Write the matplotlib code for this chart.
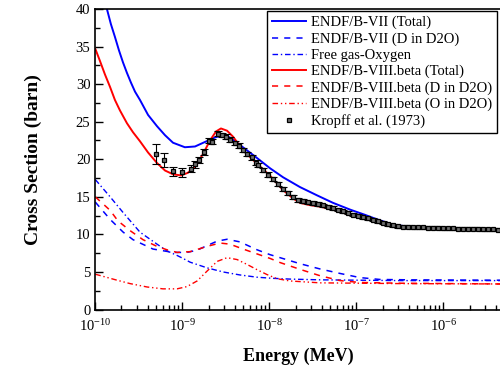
import matplotlib
matplotlib.use("Agg")
import matplotlib.pyplot as plt
from matplotlib.lines import Line2D
from matplotlib.ticker import FixedLocator, MultipleLocator, NullFormatter, LogFormatterSciNotation

plt.rcParams['font.family'] = ['Liberation Serif', 'DejaVu Serif']
plt.rcParams['mathtext.fontset'] = 'custom'
plt.rcParams['mathtext.rm'] = 'Liberation Serif'

# ---------------- data (energy in MeV, cross section in barn) ----------------
e7_total_E = [1.00e-10, 1.36e-10, 1.51e-10, 1.68e-10, 1.87e-10, 2.08e-10, 2.31e-10, 2.57e-10,
              2.86e-10, 3.26e-10, 4.04e-10, 5.12e-10, 6.33e-10, 7.82e-10, 1.07e-9, 1.40e-9,
              1.82e-9, 2.38e-9, 2.86e-9, 3.53e-9, 4.60e-9, 7.16e-9, 1.02e-8, 1.44e-8, 2.25e-8,
              3.53e-8, 5.39e-8, 8.47e-8, 1.26e-7, 1.73e-7, 2.64e-7, 4.14e-7, 9.16e-7, 2.03e-6,
              4.6e-6]
e7_total = [45.5, 40.0, 38.0, 36.3, 34.5, 32.9, 31.5, 30.2,
            29.0, 27.9, 25.9, 24.4, 23.2, 22.2, 21.6, 21.7,
            22.3, 22.9, 23.2, 22.9, 21.9, 20.2, 18.8, 17.6, 16.3,
            15.2, 14.2, 13.3, 12.6, 12.0, 11.3, 11.0, 10.85, 10.7,
            10.6]

e7_d_E = [1.00e-10, 1.48e-10, 2.09e-10, 2.71e-10, 4.60e-10, 7.82e-10, 1.13e-9, 1.48e-9, 1.92e-9,
          2.51e-9, 3.27e-9, 4.60e-9, 7.23e-9, 1.02e-8, 1.33e-8, 2.25e-8, 3.82e-8, 6.50e-8,
          1.10e-7, 1.87e-7, 4.14e-7, 4.6e-6]
e7_d = [14.3, 12.0, 10.3, 9.3, 8.05, 7.6, 7.6, 7.9, 8.5,
        9.1, 9.35, 9.0, 7.95, 7.3, 6.9, 6.1, 5.4, 4.8,
        4.25, 4.0, 3.95, 3.9]

freegas_O_E = [1.00e-10, 1.48e-10, 2.09e-10, 3.26e-10, 5.12e-10, 6.67e-10, 8.69e-10, 1.02e-9,
               1.23e-9, 1.92e-9, 2.94e-9, 4.60e-9, 7.23e-9, 1.10e-8, 1.73e-8, 3.82e-8, 3.18e-7, 4.6e-6]
freegas_O = [17.3, 15.0, 12.9, 10.3, 8.7, 7.8, 7.2, 6.8,
             6.3, 5.55, 5.0, 4.6, 4.3, 4.15, 4.05, 3.95, 3.85, 3.85]

e8_total_E = [1.00e-10, 1.13e-10, 1.29e-10, 1.48e-10, 1.68e-10, 1.92e-10, 2.31e-10, 2.71e-10,
              3.26e-10, 4.04e-10, 5.12e-10, 6.33e-10, 7.82e-10, 9.66e-10, 1.16e-9, 1.40e-9,
              1.73e-9, 2.08e-9, 2.44e-9, 2.78e-9, 3.27e-9, 3.83e-9, 4.99e-9, 7.23e-9, 1.02e-8,
              1.44e-8, 1.87e-8, 2.25e-8, 2.93e-8, 3.82e-8, 5.39e-8, 8.47e-8, 1.26e-7, 1.73e-7,
              2.64e-7, 4.14e-7, 9.16e-7, 2.03e-6, 4.6e-6]
e8_total = [34.7, 33.1, 31.3, 29.6, 27.9, 26.5, 24.8, 23.6,
            22.4, 20.9, 19.5, 18.5, 18.0, 17.85, 18.2, 19.0,
            20.7, 22.5, 23.7, 24.1, 23.8, 23.0, 21.2, 19.4, 17.8,
            15.9, 14.8, 14.2, 13.9, 13.7, 13.3, 12.6, 12.2, 11.8,
            11.2, 11.0, 10.85, 10.7, 10.6]

e8_d_E = [1.00e-10, 1.48e-10, 1.82e-10, 2.51e-10, 3.53e-10, 5.12e-10, 6.67e-10, 8.69e-10,
          1.23e-9, 1.92e-9, 2.71e-9, 3.53e-9, 4.99e-9, 7.23e-9, 1.02e-8, 1.33e-8, 2.25e-8,
          3.82e-8, 6.50e-8, 1.10e-7, 3.18e-7, 4.6e-6]
e8_d = [15.0, 13.2, 11.8, 10.5, 9.3, 8.4, 7.95, 7.6,
        7.7, 8.4, 8.85, 8.7, 8.05, 7.4, 6.8, 6.25, 5.35,
        4.5, 3.85, 3.6, 3.5, 3.4]

e8_o_E = [1.00e-10, 1.78e-10, 2.51e-10, 3.93e-10, 6.00e-10, 8.69e-10, 1.13e-9, 1.48e-9,
          1.92e-9, 2.51e-9, 3.27e-9, 4.26e-9, 5.55e-9, 7.23e-9, 9.42e-9, 1.23e-8, 1.73e-8,
          3.82e-8, 3.18e-7, 4.6e-6]
e8_o = [4.7, 3.9, 3.45, 3.0, 2.75, 2.75, 3.05, 3.8,
        5.1, 6.4, 6.9, 6.65, 6.0, 5.3, 4.65, 4.1, 3.8,
        3.55, 3.45, 3.4]

kropff_E = [4.99e-10, 6.21e-10, 7.89e-10, 1.00e-9, 1.25e-9, 1.40e-9, 1.57e-9, 1.77e-9, 2.01e-9,
            2.18e-9, 2.59e-9, 2.84e-9, 3.18e-9, 3.53e-9, 4.04e-9, 4.52e-9, 5.02e-9, 5.58e-9,
            6.28e-9, 7.03e-9, 7.48e-9, 8.53e-9, 9.75e-9, 1.11e-8, 1.27e-8, 1.45e-8, 1.65e-8,
            1.89e-8, 2.15e-8, 2.46e-8, 2.81e-8, 3.21e-8, 3.66e-8, 4.18e-8, 4.76e-8, 5.44e-8,
            6.21e-8, 7.10e-8, 8.09e-8, 9.25e-8, 1.05e-7, 1.20e-7, 1.37e-7, 1.57e-7, 1.79e-7,
            2.04e-7, 2.33e-7, 2.66e-7, 3.04e-7, 3.47e-7, 3.96e-7, 4.52e-7, 5.16e-7, 5.89e-7,
            6.73e-7, 7.68e-7, 8.77e-7, 1.00e-6, 1.14e-6, 1.30e-6, 1.49e-6, 1.70e-6, 1.94e-6,
            2.21e-6, 2.52e-6, 2.88e-6, 3.29e-6, 3.76e-6, 4.29e-6]
kropff = [20.7, 19.85, 18.4, 18.3, 18.75, 19.35, 19.9, 20.95, 22.45,
          22.35, 23.4, 23.25, 23.0, 22.6, 22.15, 21.8, 21.25, 20.7,
          20.25, 19.55, 19.25, 18.6, 17.95, 17.35, 16.7, 16.05, 15.5,
          14.95, 14.6, 14.4, 14.25, 14.15, 14.05, 13.85, 13.7, 13.5,
          13.3, 13.05, 12.85, 12.6, 12.5, 12.3, 12.15, 11.95, 11.75,
          11.55, 11.35, 11.2, 11.1, 11.05, 11.0, 10.97, 10.95, 10.92,
          10.9, 10.88, 10.86, 10.84, 10.82, 10.8, 10.78, 10.77, 10.75,
          10.73, 10.72, 10.7, 10.68, 10.66, 10.65]
kropff_err = [1.37, 0.93, 0.62, 0.6, 0.5, 0.45, 0.4, 0.4, 0.35,
              0.35, 0.3, 0.3, 0.3, 0.3, 0.3, 0.3, 0.3, 0.3,
              0.3, 0.3, 0.3, 0.3, 0.3, 0.3, 0.3, 0.3, 0.3,
              0.25, 0.25, 0.25, 0.25, 0.25, 0.25, 0.25, 0.25, 0.25,
              0.2, 0.2, 0.2, 0.2, 0.2, 0.2, 0.2, 0.2, 0.2,
              0.2, 0.2, 0.2, 0.2, 0.2, 0.2, 0.2, 0.2, 0.2,
              0.2, 0.2, 0.2, 0.2, 0.2, 0.2, 0.2, 0.2, 0.2,
              0.2, 0.2, 0.2, 0.2, 0.2, 0.2]

labels = ["ENDF/B-VII (Total)", "ENDF/B-VII (D in D2O)", "Free gas-Oxygen",
          "ENDF/B-VIII.beta (Total)", "ENDF/B-VIII.beta (D in D2O)",
          "ENDF/B-VIII.beta (O in D2O)", "Kropff et al. (1973)"]

x_major = [1e-10, 1e-9, 1e-8, 1e-7, 1e-6]

# ---------------- figure ----------------
fig = plt.figure(figsize=(5.0, 3.69), dpi=100)
ax = fig.add_axes([0.1906, 0.1612, 0.8114, 0.8144])

blue = '#0000ff'
red = '#ff0000'
h = []
h += ax.plot(e7_total_E, e7_total, color=blue, lw=1.4)
h += ax.plot(e7_d_E, e7_d, color=blue, lw=1.1, ls=(0, (4, 4)))
h += ax.plot(freegas_O_E, freegas_O, color=blue, lw=1.0, ls=(0, (4, 2, 1, 2)))
h += ax.plot(e8_total_E, e8_total, color=red, lw=1.4)
h += ax.plot(e8_d_E, e8_d, color=red, lw=1.1, ls=(0, (4, 4)))
h += ax.plot(e8_o_E, e8_o, color=red, lw=1.0, ls=(0, (4, 2, 1, 2, 1, 2)))
mk = dict(marker='s', ms=3.2, mfc='#707070', mec='black', mew=0.9)
ax.errorbar(kropff_E, kropff, yerr=kropff_err, fmt='none', ecolor='black',
            elinewidth=0.8, capsize=3, capthick=0.8)
ax.plot(kropff_E, kropff, ls='none', **mk)
h.append(Line2D([], [], ls='none', **mk))

ax.set_xscale('log')
ax.set_xlim(1e-10, 4.6e-6)
ax.set_ylim(0, 40)

x_minor = [m * d for d in x_major for m in range(2, 10) if m * d < 4.6e-6]
ax.xaxis.set_major_locator(FixedLocator(x_major))
ax.xaxis.set_major_formatter(LogFormatterSciNotation())
ax.xaxis.set_minor_locator(FixedLocator(x_minor))
ax.xaxis.set_minor_formatter(NullFormatter())
ax.yaxis.set_major_locator(MultipleLocator(5))
ax.yaxis.set_minor_locator(MultipleLocator(2.5))

ax.tick_params(which='both', direction='in', top=False, right=False, labelsize=10.5,
               width=1.0, color='black')
ax.tick_params(which='major', length=6)
ax.tick_params(which='minor', length=3.5)
ax.tick_params(axis='x', pad=6)
for s in ax.spines.values():
    s.set_linewidth(1.2)
    s.set_color('black')

ax.set_xlabel('Energy (MeV)', fontsize=13, fontweight='bold', labelpad=10)
ax.set_ylabel('Cross Section (barn)', fontsize=14, fontweight='bold', labelpad=24)

leg = ax.legend(h, labels, loc='upper right', bbox_to_anchor=(0.991, 0.994), fontsize=10.5,
                frameon=True, fancybox=False, edgecolor='black', framealpha=1,
                handlelength=2.3, handletextpad=0.35, labelspacing=0.2, borderpad=0.35,
                borderaxespad=0)
leg.get_frame().set_linewidth(1.0)

fig.savefig('out.png', dpi=100)
